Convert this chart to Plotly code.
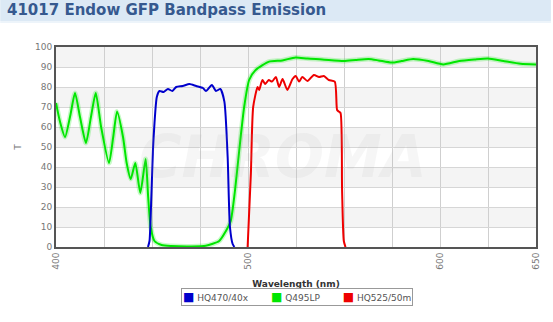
import plotly.graph_objects as go

# Q495LP (green)
green_nm = [400, 402, 404.7, 407.5, 409.9, 412.5, 415.6, 418.2, 420.7, 423.5, 427.6, 429.8, 431.8, 434.9, 436.8, 438.9,
            441.3, 443.9, 446.7, 448, 449.3, 451.3, 455, 460, 470, 478, 485, 488.5, 491, 493.2, 495.4, 498, 500.6, 504,
            511, 517.9, 524.8, 531, 538.6, 549.9, 556, 562.8, 568, 574.8, 580, 586, 594, 601.7, 610, 618, 625, 633,
            642, 650]
green_t = [72, 63, 55, 66, 77, 65, 52, 65, 77, 60, 42, 55, 67.7, 55, 42, 34,
           42, 27, 44, 25, 10, 3, 1, 0.5, 0.3, 0.6, 3, 8, 13, 28, 48, 70, 83.5, 88.5,
           92.7, 93.3, 94.8, 94.2, 93.8, 93, 93.5, 94, 93.3, 92.2, 93, 94, 93, 91.3, 93, 93.8, 94.3, 93,
           91.6, 91.3]

# HQ470/40x (blue)
blue_nm = [447.9, 448.7, 449.6, 450.5, 451.3, 452.5, 453.9, 456, 458.3, 460.6, 462.6, 466, 469.5, 473, 476.5,
           478.1, 481.2, 483.3, 485.6, 487.7, 489.4, 490.6, 492, 492.9]
blue_t = [0, 3, 23.5, 48.5, 62, 75, 78, 77.5, 79, 78, 80, 80.5, 81.5, 80.5, 79.5,
          78, 81, 78, 79, 72.7, 45, 10, 1.5, 0]

# HQ525/50m (red)
red_nm = [499.8, 501.5, 502.7, 505, 505.8, 507.5, 509, 510.8, 512.5, 514.5, 516.2, 518, 520.5, 523.2, 524.9,
          526.6, 528.3, 531, 534.3, 537, 539.5, 542.1, 545.2, 546.4, 547.3, 548.2, 549, 549.9, 550.8]
red_t = [0, 36.8, 70, 80, 78.5, 83.5, 81.5, 83.5, 82.7, 85, 80, 84, 78.5, 84, 85.5,
         82.7, 85, 83, 86, 85, 85.5, 83.5, 82.7, 68.5, 67.7, 67, 28.5, 3, 0]

series_names = ["HQ470/40x", "Q495LP", "HQ525/50m"]
series_colors = ["#0000cc", "#00e600", "#ee0000"]
x_tickvals = [400, 500, 600, 650]
y_tickvals = list(range(0, 101, 10))
title_text = "41017 Endow GFP Bandpass Emission"

fig = go.Figure()

# plot area in pixels: left 56, top 47, width 482, height 200
PL, PT, PW, PH = 56, 47, 482, 200
def px_x(p):
    return (p - PL) / PW
def px_y(p):
    return (PT + PH - p) / PH

shapes = []
for lo in range(0, 100, 10):
    if (lo // 10) % 2 == 1:
        shapes.append(dict(type="rect", xref="x", yref="y", x0=400, x1=650, y0=lo, y1=lo + 10,
                           fillcolor="#f4f4f4", line=dict(width=0), layer="below"))
# header bar
shapes.append(dict(type="rect", xref="paper", yref="paper", x0=px_x(0), x1=px_x(553), y0=px_y(21),
                   y1=px_y(0), fillcolor="#dce9f5", line=dict(width=0), layer="below"))
shapes.append(dict(type="rect", xref="paper", yref="paper", x0=px_x(0), x1=px_x(553), y0=px_y(23),
                   y1=px_y(21), fillcolor="#edf4fa", line=dict(width=0), layer="below"))

series = [(green_nm, green_t, series_colors[1]),
          (blue_nm, blue_t, series_colors[0]),
          (red_nm, red_t, series_colors[2])]
fig.add_trace(go.Scatter(x=green_nm, y=green_t, mode="lines",
                         line=dict(color="rgba(0,230,0,0.22)", width=5, shape="spline", smoothing=0.6),
                         showlegend=False, hoverinfo="skip"))
for nm, t, c in series:
    fig.add_trace(go.Scatter(x=nm, y=t, mode="lines", line=dict(color=c, width=2, shape="spline", smoothing=0.6),
                             showlegend=False))

# watermark
fig.add_annotation(text="<b><i>CHROMA</i></b>", xref="x", yref="y", x=518, y=45, showarrow=False,
                   font=dict(family="DejaVu Sans", size=58, color="rgba(170,170,170,0.10)"))

# title
fig.add_annotation(text="<b>" + title_text + "</b>", xref="paper", yref="paper", x=px_x(5), y=px_y(10.5),
                   xanchor="left", yanchor="middle", showarrow=False,
                   font=dict(family="DejaVu Sans", size=15, color="#36598f"))

# legend box
sep = "&nbsp;&nbsp;&nbsp;&nbsp;&nbsp;&nbsp;&nbsp;&nbsp;"
legend_txt = sep.join("<span style='color:%s;font-size:12px'>■</span>&nbsp;%s" % (c, n)
                      for n, c in zip(series_names, series_colors))
fig.add_annotation(text=legend_txt, xref="paper", yref="paper", x=px_x(298), y=px_y(297),
                   xanchor="center", yanchor="middle", showarrow=False,
                   bordercolor="#999", borderwidth=1, borderpad=1, bgcolor="white",
                   font=dict(family="DejaVu Sans", size=9, color="#555"))

fig.update_layout(
    width=553, height=322,
    margin=dict(l=PL, r=553 - PL - PW, t=PT, b=322 - PT - PH),
    paper_bgcolor="white", plot_bgcolor="white",
    shapes=shapes, showlegend=False,
    xaxis=dict(range=[400, 650], tickvals=x_tickvals, tickangle=-90, showgrid=True, gridcolor="#cfcfcf",
               minor=dict(dtick=25, tick0=400, showgrid=True, gridcolor="#cfcfcf"),
               showline=True, linecolor="#555", linewidth=2, mirror=True, ticks="",
               tickfont=dict(family="DejaVu Sans", size=9, color="#777"),
               title=dict(text="<b>Wavelength (nm)</b>", font=dict(family="DejaVu Sans", size=9, color="#333"), standoff=12),
               zeroline=False),
    yaxis=dict(range=[0, 100], tickvals=y_tickvals, showgrid=True, gridcolor="#d6d6d6",
               showline=True, linecolor="#555", linewidth=2, mirror=True, ticks="",
               tickfont=dict(family="DejaVu Sans", size=9, color="#777"),
               title=dict(text="T", font=dict(family="DejaVu Sans", size=9, color="#777"), standoff=12),
               zeroline=False),
)

fig.write_html("out.html")
